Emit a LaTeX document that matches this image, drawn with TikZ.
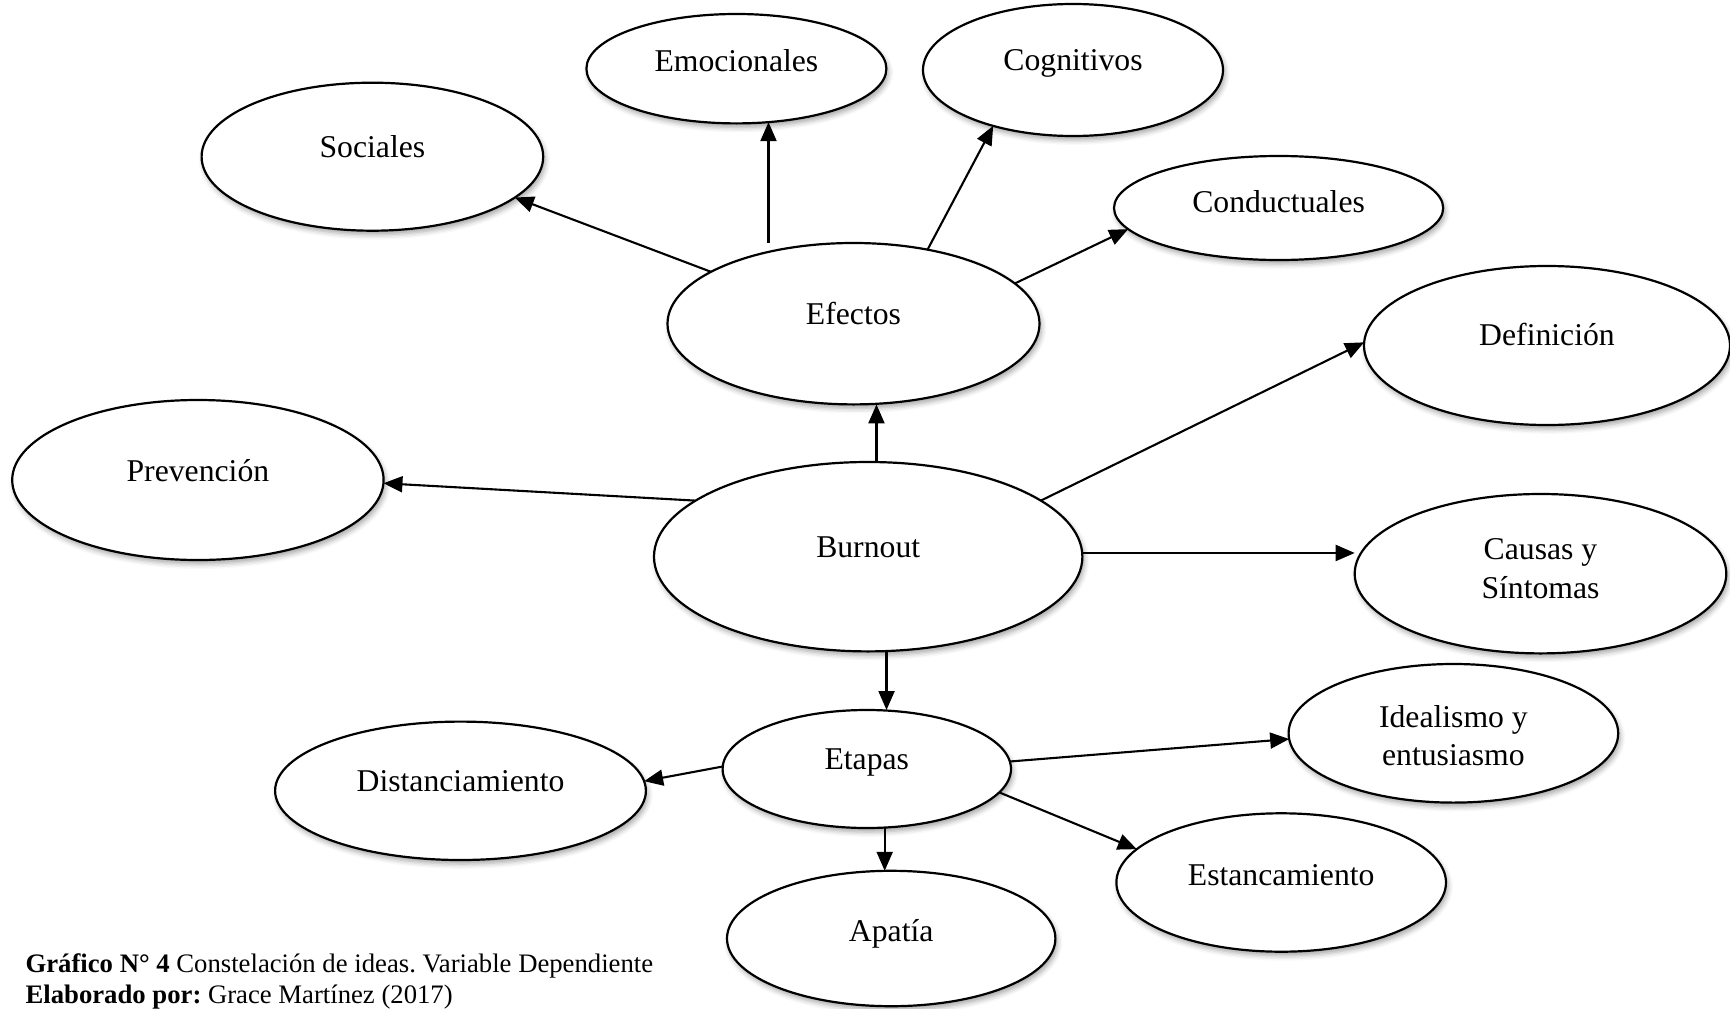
\documentclass[tikz,border=0pt]{standalone}
\usepackage{fontspec}
\setmainfont{Liberation Serif}
\frenchspacing
\usetikzlibrary{arrows.meta,shadows.blur,calc,shapes.geometric}
\begin{document}
\begin{tikzpicture}[x=1pt,y=-1pt,
  bub/.style={ellipse, draw=black, line width=2.2pt, fill=white, inner sep=0pt, outer sep=0pt,
     blur shadow={shadow xshift=2pt, shadow yshift=-4pt, shadow blur radius=5pt, shadow opacity=35}},
  lbl/.style={font=\fontsize{31.7}{38.3}\selectfont, align=center, inner sep=0pt},
  arr/.style={line width=2.1pt, -{Triangle[length=19pt,width=16pt]}},
  captxt/.style={font=\fontsize{26.7}{31}\selectfont, anchor=base west, inner sep=0pt}]
\useasboundingbox (0,0) rectangle (1730,1009);

% ellipses
\node[bub, minimum width=300pt,   minimum height=109.4pt] (emoc) at (736.4,68.7) {};
\node[bub, minimum width=300pt,   minimum height=132pt]   (cogn) at (1073,70) {};
\node[bub, minimum width=341.6pt, minimum height=148pt]   (soc)  at (372.4,156.7) {};
\node[bub, minimum width=329.2pt, minimum height=104pt]   (cond) at (1278.6,208) {};
\node[bub, minimum width=372pt,   minimum height=161.4pt] (efe)  at (853.5,323.7) {};
\node[bub, minimum width=366pt,   minimum height=159pt]   (def)  at (1547,345.5) {};
\node[bub, minimum width=371.4pt, minimum height=160pt]   (prev) at (197.9,480) {};
\node[bub, minimum width=428.4pt, minimum height=189.4pt] (burn) at (868.2,556.7) {};
\node[bub, minimum width=371.6pt, minimum height=159.4pt] (caus) at (1540.5,573.7) {};
\node[bub, minimum width=329.6pt, minimum height=138.6pt] (idea) at (1453.4,733.3) {};
\node[bub, minimum width=288.4pt, minimum height=118pt]   (etap) at (866.8,769) {};
\node[bub, minimum width=370.8pt, minimum height=138.4pt] (dist) at (460.5,790.8) {};
\node[bub, minimum width=329.6pt, minimum height=138.4pt] (esta) at (1281.2,882.5) {};
\node[bub, minimum width=328.4pt, minimum height=135.4pt] (apat) at (891.2,938.5) {};

% texts
\node[lbl] (emocT) at ($(emoc.center)+(0,-8)$)  {Emocionales};
\node[lbl] (cognT) at ($(cogn.center)+(0,-7)$)  {Cognitivos};
\node[lbl] (socT)  at ($(soc.center)+(0,-10)$)  {Sociales};
\node[lbl] (condT) at ($(cond.center)+(0,-6)$)  {Conductuales};
\node[lbl] (efeT)  at ($(efe.center)+(0,-10)$)  {Efectos};
\node[lbl] (defT)  at ($(def.center)+(0,-11)$)  {Definición};
\node[lbl] (prevT) at ($(prev.center)+(0,-9)$)  {Prevención};
\node[lbl] (burnT) at ($(burn.center)+(0,-9)$)  {Burnout};
\node[lbl] (causT) at ($(caus.center)+(0,-5)$)  {Causas y\\Síntomas};
\node[lbl] (ideaT) at ($(idea.center)+(0,2)$)   {Idealismo y\\entusiasmo};
\node[lbl] (etapT) at ($(etap.center)+(0,-7)$)  {Etapas};
\node[lbl] (distT) at ($(dist.center)+(0,-10)$) {Distanciamiento};
\node[lbl] (estaT) at ($(esta.center)+(0,-7)$)  {Estancamiento};
\node[lbl] (apatT) at ($(apat.center)+(0,-5)$)  {Apatía};

% connectors
\draw[arr] (efe.160.2) -- (soc.344.2);
\draw[arr] (emoc.301.5 |- efe.north) -- (emoc.301.5);
\draw[arr] (efe.45.1) -- (cogn.215.05);
\draw[arr] (efe.14.9) -- (cond.188.7);
\draw[arr] (burn.85.7) -- (burn.85.7 |- efe.south);
\draw[arr] (burn.162.6) -- (prev.359.5);
\draw[arr] (burn.18.4) -- (def.179.2);
\draw[arr] (burn.1.2) -- (burn.1.2 -| caus.west);
\draw[arr] (burn.281.1) -- (burn.281.1 |- etap.north);
\draw[arr] (etap.179.7) -- (dist.3.6);
\draw[arr] (etap.3.8) -- (idea.182.3);
\draw[arr] (etap.350.1) -- (esta.167.6);
\draw[arr] (etap.287.6) -- (etap.287.6 |- apat.north);

% caption
\node[captxt] (cap1) at (25.4,972) {\textbf{Gráfico N° 4} Constelación de ideas. Variable Dependiente};
\node[captxt] (cap2) at (25.4,1003) {\textbf{Elaborado por:} Grace Martínez (2017)};
\end{tikzpicture}
\end{document}
